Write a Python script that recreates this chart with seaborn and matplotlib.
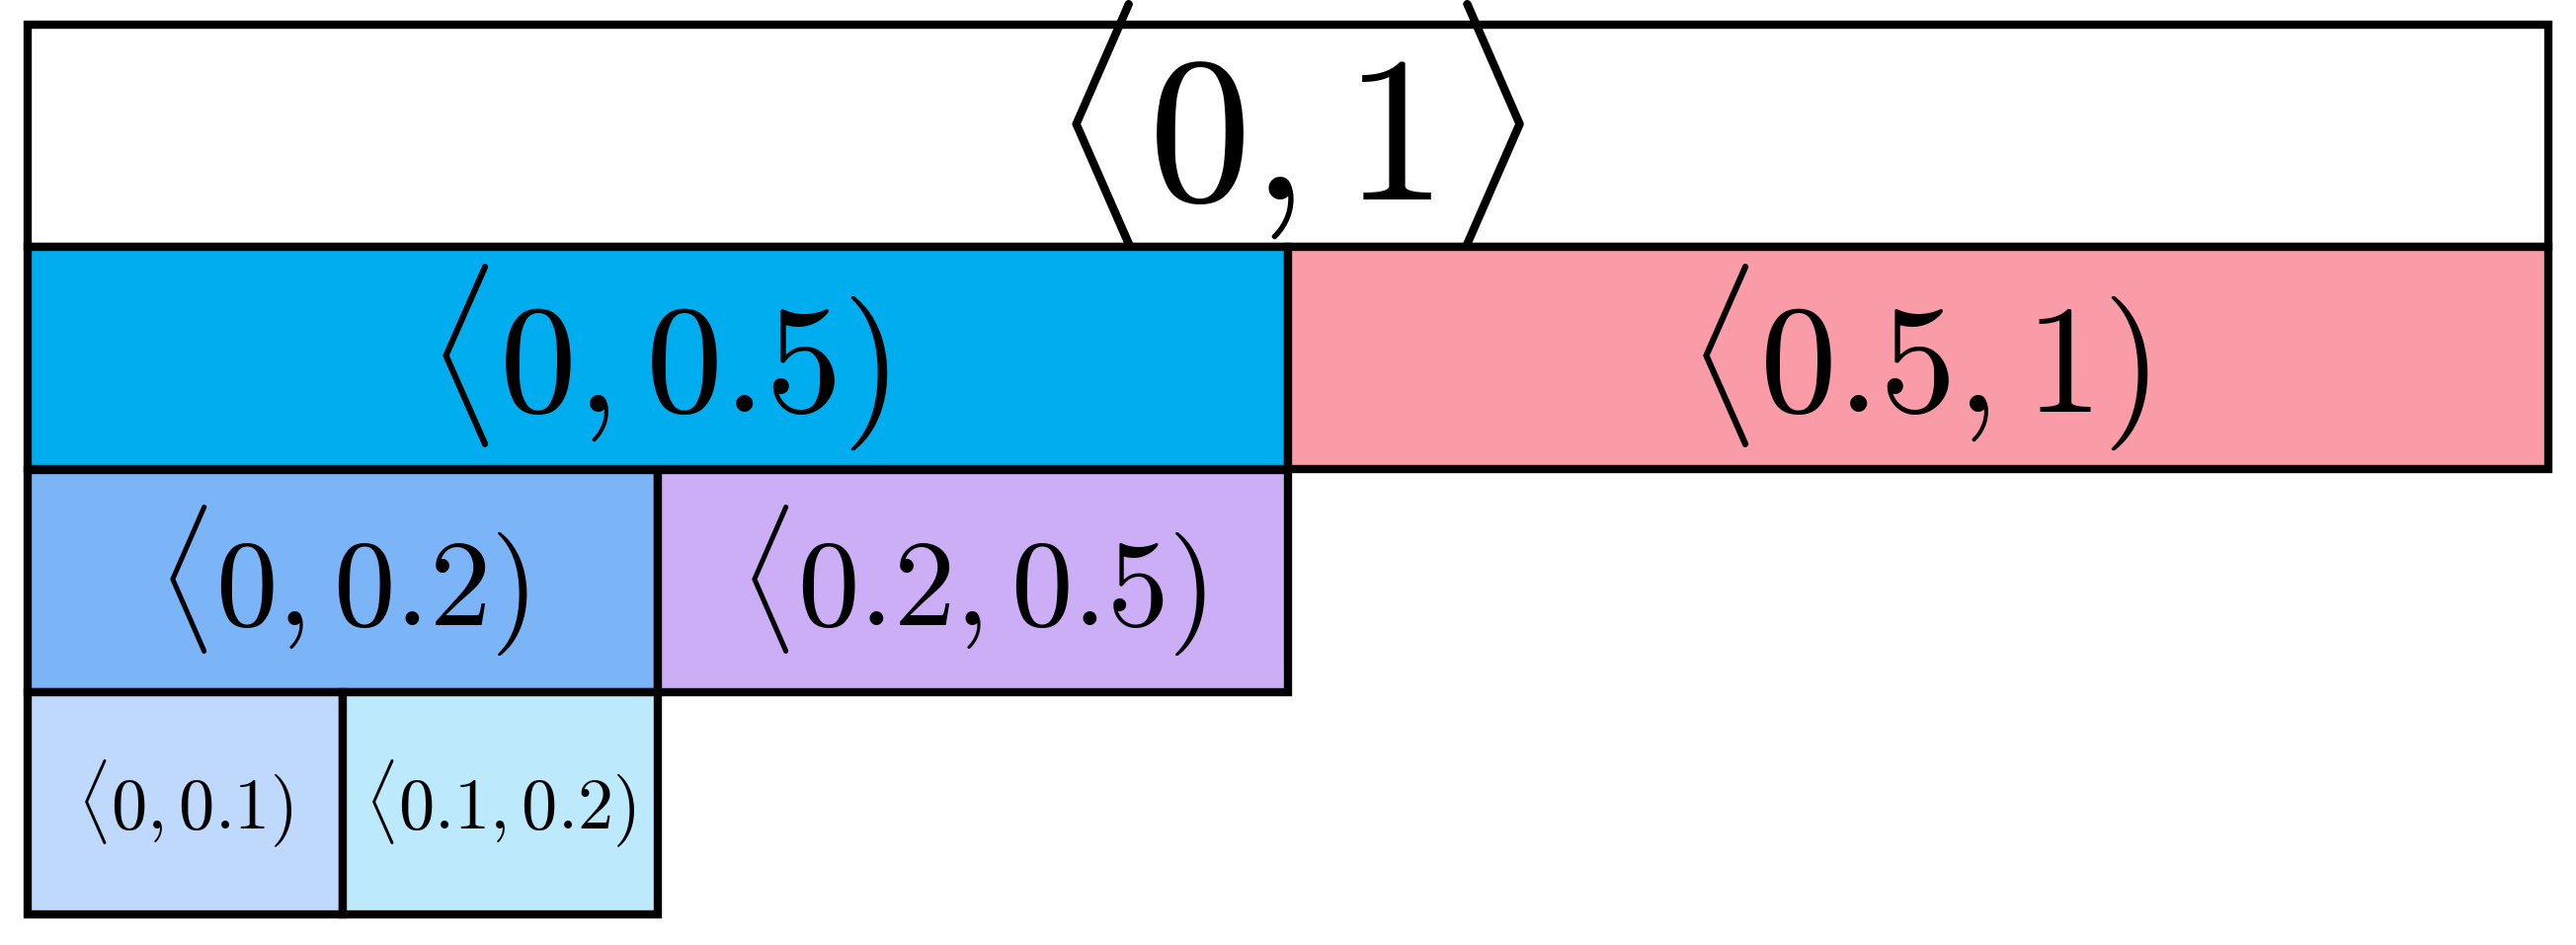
import matplotlib
matplotlib.use("Agg")
import matplotlib.pyplot as plt
import seaborn as sns

sns.set_theme(style="white")
plt.rcParams['mathtext.fontset'] = 'cm'

labels = [r"$\langle 0, 1\rangle$", r"$\langle 0, 0.5)$", r"$\langle 0.5, 1)$",
          r"$\langle 0, 0.2)$", r"$\langle 0.2, 0.5)$",
          r"$\langle 0, 0.1)$", r"$\langle 0.1, 0.2)$"]
levels = [0, 1, 1, 2, 2, 3, 3]
starts = [0, 0, 0.5, 0, 0.25, 0, 0.125]
spans = [1, 0.5, 0.5, 0.25, 0.25, 0.125, 0.125]
colors = ["#FFFFFF", "#00AEEF", "#F99CA8", "#7BB5F7", "#CBAEF5", "#BFD9FD", "#BDE9FC"]
fontsizes = [150, 112, 112, 90, 90, 52, 52]

fig = plt.figure(figsize=(26.08, 9.57), dpi=100)
ax = fig.add_axes([20/2608, 26/957, 2568/2608, 911/957])
ax.barh(levels, spans, left=starts, height=1.0, color=colors,
        edgecolor="black", linewidth=6, zorder=1)
for lab, lv, s, w, fs in zip(labels, levels, starts, spans, fontsizes):
    dy = -0.05 if lv == 0 else 0.0
    ax.text(s + w/2, lv + dy, lab, ha="center", va="center",
            fontsize=fs, color="black", zorder=5)
ax.set_xlim(-0.003, 1.003)
ax.set_ylim(3.52, -0.52)
ax.axis("off")
fig.savefig("out.png", dpi=100)
